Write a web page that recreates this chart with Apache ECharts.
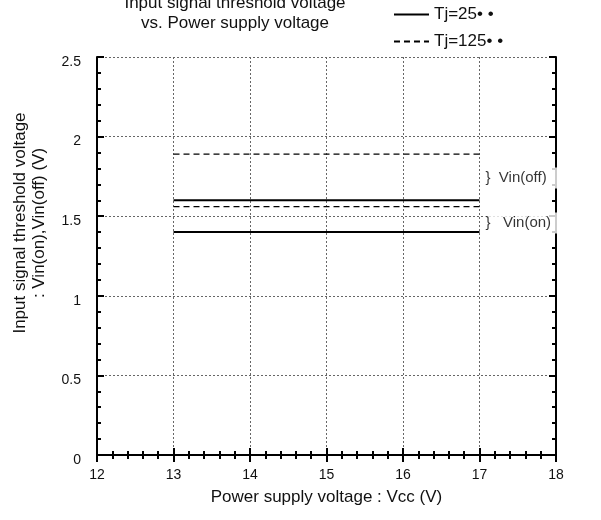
<!DOCTYPE html>
<html>
<head>
<meta charset="utf-8">
<script src="https://cdn.jsdelivr.net/npm/echarts@6/dist/echarts.min.js"></script>
<style>
  html, body { margin: 0; padding: 0; background: #fff; }
  #chart { width: 601px; height: 520px; }
</style>
</head>
<body>
<div id="chart"></div>
<script>
// data
const vccRange = [13, 17];
const vinOff25 = [1.6, 1.6];
const vinOn25 = [1.4, 1.4];
const vinOff125 = [1.89, 1.89];
const vinOn125 = [1.56, 1.56];
const seriesNames = ['Tj=25• •', 'Tj=125• •'];
const notes = [[17, 1.74, '}  Vin(off)'], [17, 1.457, '}   Vin(on)']];

const font = 'Arial, "Liberation Sans", sans-serif';
const pairs = (ys) => vccRange.map((x, i) => [x, ys[i]]);

const tickStyle = {
  axisTick: { show: true, inside: true, length: 7, lineStyle: { color: '#000', width: 2 } },
  minorTick: { show: true, splitNumber: 5, length: 4, lineStyle: { color: '#000', width: 2 } }
};
const gridDots = { show: true, lineStyle: { color: '#666', type: [2, 2], width: 1 } };

const myChart = echarts.init(document.getElementById('chart'));
myChart.setOption({
  animation: false,
  title: {
    text: 'Input signal threshold voltage\nvs. Power supply voltage',
    left: 230,
    top: -12,
    textAlign: 'center',
    textStyle: { fontFamily: font, fontSize: 17, fontWeight: 'normal', color: '#111', lineHeight: 20 }
  },
  legend: {
    data: seriesNames,
    orient: 'vertical',
    left: 393,
    top: 6,
    padding: 0,
    itemWidth: 35,
    itemHeight: 16,
    itemGap: 10,
    itemStyle: { opacity: 0 },
    textStyle: { fontFamily: font, fontSize: 17, color: '#111' }
  },
  grid: { left: 97, right: 45, top: 57, bottom: 65 },
  xAxis: [
    {
      type: 'value', min: 12, max: 18, interval: 1,
      name: 'Power supply voltage : Vcc (V)',
      nameLocation: 'middle', nameGap: 34,
      nameTextStyle: { fontFamily: font, fontSize: 17, color: '#111' },
      axisLine: { show: true, onZero: false, lineStyle: { color: '#000', width: 2 } },
      axisLabel: { fontFamily: font, fontSize: 14, color: '#111', margin: 13 },
      splitLine: gridDots,
      ...tickStyle
    },
    {
      type: 'value', min: 12, max: 18, interval: 1, position: 'top',
      axisLine: { show: false },
      axisLabel: { show: false },
      splitLine: { show: false },
      ...tickStyle
    }
  ],
  yAxis: [
    {
      type: 'value', min: 0, max: 2.5, interval: 0.5,
      name: 'Input signal threshold voltage\n: Vin(on),Vin(off) (V)',
      nameLocation: 'middle', nameGap: 48,
      nameTextStyle: { fontFamily: font, fontSize: 17, color: '#111', lineHeight: 19, padding: [0, 0, 0, 66] },
      axisLine: { show: true, lineStyle: { color: '#000', width: 2 } },
      axisLabel: { fontFamily: font, fontSize: 14, color: '#111', margin: 16, verticalAlign: 'top', lineHeight: 10 },
      splitLine: gridDots,
      ...tickStyle
    },
    {
      type: 'value', min: 0, max: 2.5, interval: 0.5, position: 'right',
      axisLine: { show: true, lineStyle: { color: '#000', width: 2 } },
      axisLabel: { show: false },
      splitLine: { show: false },
      ...tickStyle
    }
  ],
  series: [
    { name: seriesNames[0], type: 'line', symbol: 'none', data: pairs(vinOff25),
      lineStyle: { color: '#000', width: 2 }, itemStyle: { color: '#000' } },
    { name: seriesNames[0], type: 'line', symbol: 'none', data: pairs(vinOn25),
      lineStyle: { color: '#000', width: 2 }, itemStyle: { color: '#000' } },
    { name: seriesNames[1], type: 'line', symbol: 'none', data: pairs(vinOff125),
      lineStyle: { color: '#000', width: 1.4, type: [6, 4] }, itemStyle: { color: '#000' } },
    { name: seriesNames[1], type: 'line', symbol: 'none', data: pairs(vinOn125),
      lineStyle: { color: '#000', width: 1.4, type: [6, 4] }, itemStyle: { color: '#000' } },
    {
      type: 'scatter', symbolSize: 0, z: 5, silent: true,
      data: notes,
      label: {
        show: true, position: 'right', distance: 4,
        formatter: (p) => p.data[2],
        fontFamily: font, fontSize: 15, color: '#000',
        backgroundColor: '#fff', padding: [3, 14, 3, 2]
      }
    }
  ]
});
</script>
</body>
</html>
